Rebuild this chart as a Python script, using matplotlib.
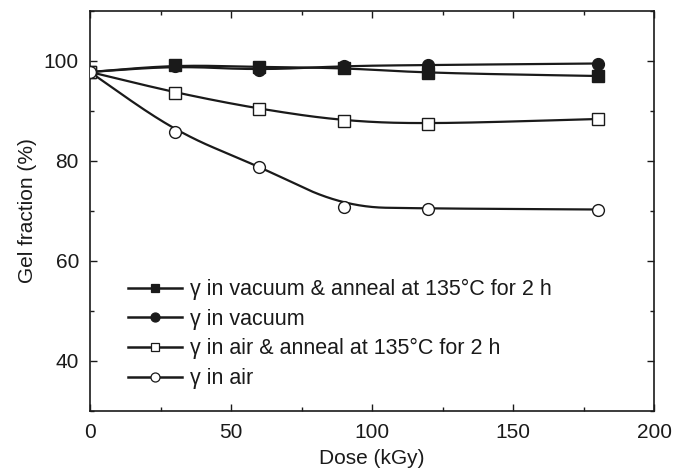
import numpy as np
import matplotlib
matplotlib.use("Agg")
import matplotlib.pyplot as plt
from matplotlib.ticker import MultipleLocator

plt.rcParams["font.family"] = ["Liberation Sans", "DejaVu Sans"]

dose = [0, 30, 60, 90, 120, 180]
vac_anneal = [97.8, 99.2, 98.8, 98.6, 97.6, 97.0]
vac = [97.8, 99.0, 98.2, 99.0, 99.2, 99.5]
air_anneal = [97.8, 93.7, 90.4, 88.0, 87.4, 88.4]
air = [97.8, 85.9, 78.9, 70.8, 70.5, 70.3]

labels = [
    "\u03b3 in vacuum & anneal at 135\u00b0C for 2 h",
    "\u03b3 in vacuum",
    "\u03b3 in air & anneal at 135\u00b0C for 2 h",
    "\u03b3 in air",
]


def smooth(x, y, n_iter=6):
    # Chaikin corner cutting -> smooth guide line like the original figure
    pts = np.column_stack([x, y]).astype(float)
    for _ in range(n_iter):
        q = 0.75 * pts[:-1] + 0.25 * pts[1:]
        r = 0.25 * pts[:-1] + 0.75 * pts[1:]
        mid = np.empty((2 * len(q), 2))
        mid[0::2] = q
        mid[1::2] = r
        pts = np.vstack([pts[:1], mid[1:-1], pts[-1:]])
    return pts[:, 0], pts[:, 1]


fig = plt.figure(figsize=(6.73, 4.70), dpi=100)
ax = fig.add_axes([90 / 673, 1 - 411 / 470, 564 / 673, 400 / 470])

series = [
    (vac_anneal, "s", "#1a1a1a"),
    (vac, "o", "#1a1a1a"),
    (air_anneal, "s", "white"),
    (air, "o", "white"),
]
handles = []
for (vals, mk, fc), lab in zip(series, labels):
    xs, ys = smooth(dose, vals)
    ax.plot(xs, ys, color="#1a1a1a", lw=1.6, zorder=2)
    ax.plot(dose, vals, ls="none", marker=mk, ms=8.5 if mk == "o" else 8,
            mfc=fc, mec="#1a1a1a", mew=1.0, zorder=3)
    h, = ax.plot([], [], color="#1a1a1a", lw=1.8, marker=mk, ms=6.5 if mk == "o" else 6,
                 mfc=fc, mec="#1a1a1a", mew=0.9, label=lab)
    handles.append(h)

ax.set_xlim(0, 200)
ax.set_ylim(30, 110)
ax.xaxis.set_major_locator(MultipleLocator(50))
ax.xaxis.set_minor_locator(MultipleLocator(25))
ax.yaxis.set_minor_locator(MultipleLocator(10))
ax.set_yticks([40, 60, 80, 100])
ax.tick_params(which="both", direction="in", top=True, right=True,
               labelsize=15, colors="#1a1a1a", width=1.0, pad=8)
ax.tick_params(which="major", length=5)
ax.tick_params(which="minor", length=3)
ax.tick_params(axis="x", pad=9)
for s in ax.spines.values():
    s.set_linewidth(1.2)
    s.set_color("#1a1a1a")

ax.set_xlabel("Dose (kGy)", fontsize=15, color="#1a1a1a", labelpad=5)
ax.set_ylabel("Gel fraction (%)", fontsize=15, color="#1a1a1a", labelpad=5)

ax.legend(handles=handles, loc="upper left", bbox_to_anchor=(0.067, 0.33),
          frameon=False, fontsize=15.5, handlelength=2.5, handletextpad=0.4,
          labelspacing=0.4, borderpad=0, borderaxespad=0, labelcolor="#1a1a1a")

fig.savefig("out.png", dpi=100)
